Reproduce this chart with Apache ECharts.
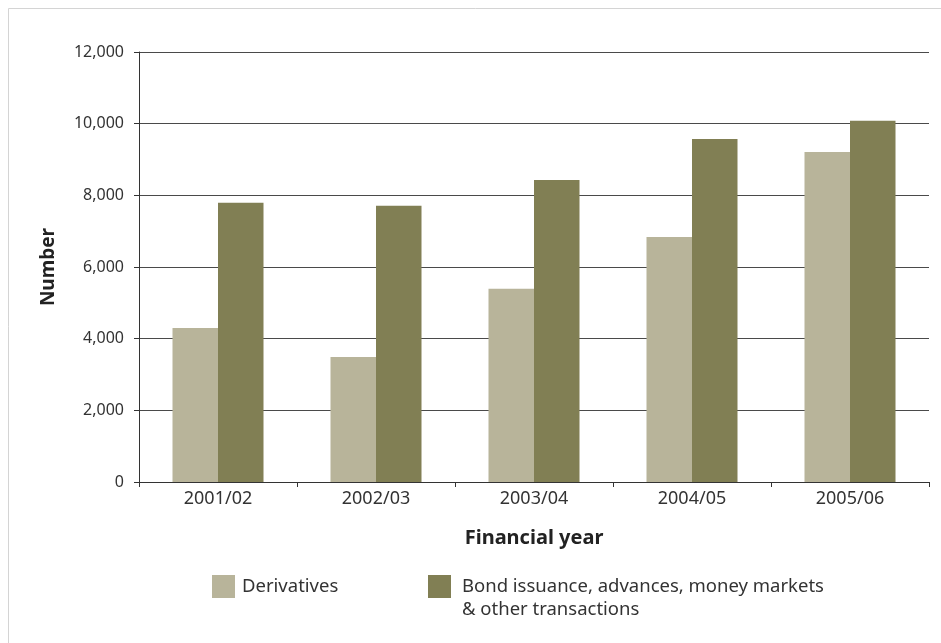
<!DOCTYPE html>
<html>
<head>
<meta charset="utf-8">
<script src="https://cdn.jsdelivr.net/npm/echarts@6/dist/echarts.min.js"></script>
<style>
  html, body { margin: 0; padding: 0; background: #fff; }
  #chart { width: 941px; height: 643px; }
</style>
</head>
<body>
<div id="chart"></div>
<script>
const categories = ['2001/02', '2002/03', '2003/04', '2004/05', '2005/06'];
const derivatives = [4300, 3490, 5390, 6840, 9210];
const bondIssuance = [7790, 7710, 8430, 9570, 10080];
const seriesNames = ['Derivatives', 'Bond issuance, advances, money markets\n& other transactions'];

const FONT = 'Noto Sans';
const chart = echarts.init(document.getElementById('chart'), null, { renderer: 'canvas' });
chart.setOption({
  animation: false,
  backgroundColor: '#fff',
  textStyle: { fontFamily: FONT },
  graphic: [{
    type: 'rect',
    shape: { x: 8.5, y: 8.5, width: 1200, height: 1200 },
    style: { fill: 'none', stroke: '#d4d4d4', lineWidth: 1 },
    silent: true
  }],
  grid: { left: 139, top: 52, right: 12, bottom: 161 },
  legend: [
    {
      data: [seriesNames[0]],
      left: 212, top: 575, padding: 0,
      itemWidth: 23, itemHeight: 23,
      icon: 'rect',
      textStyle: { fontFamily: FONT, fontSize: 18.5, color: '#333', lineHeight: 23, padding: [0, 0, 0, 2] }
    },
    {
      data: [seriesNames[1]],
      left: 428, top: 552, padding: 0,
      itemWidth: 23, itemHeight: 23,
      icon: 'rect',
      formatter: name => '\n' + name,
      textStyle: { fontFamily: FONT, fontSize: 18.5, color: '#333', lineHeight: 23, padding: [0, 0, 0, 6] }
    }
  ],
  xAxis: {
    type: 'category',
    data: categories,
    name: 'Financial year',
    nameLocation: 'middle',
    nameGap: 46,
    nameTextStyle: { fontFamily: FONT, fontSize: 20, fontWeight: 'bold', color: '#222' },
    axisLine: { lineStyle: { color: '#333', width: 1 } },
    axisTick: { show: true, length: 5, lineStyle: { color: '#333' } },
    axisLabel: { fontFamily: FONT, fontSize: 18, color: '#333', margin: 8 }
  },
  yAxis: {
    type: 'value',
    min: 0, max: 12000, interval: 2000,
    name: 'Number',
    nameLocation: 'middle',
    nameGap: 81,
    nameRotate: 90,
    nameTextStyle: { fontFamily: FONT, fontSize: 19, fontWeight: 'bold', color: '#222' },
    axisLine: { show: true, lineStyle: { color: '#333', width: 1 } },
    axisTick: { show: true, length: 5, lineStyle: { color: '#333' } },
    splitLine: { show: true, lineStyle: { color: '#4a4a4a', width: 1 } },
    axisLabel: {
      fontFamily: FONT, fontSize: 16, color: '#333', margin: 15,
      formatter: v => v.toLocaleString('en-US')
    }
  },
  series: [
    {
      name: seriesNames[0], type: 'bar', data: derivatives,
      itemStyle: { color: '#b8b49a' },
      barGap: '0%', barCategoryGap: '42.4%'
    },
    {
      name: seriesNames[1], type: 'bar', data: bondIssuance,
      itemStyle: { color: '#817f54' },
      barGap: '0%', barCategoryGap: '42.4%'
    }
  ]
});
</script>
</body>
</html>
